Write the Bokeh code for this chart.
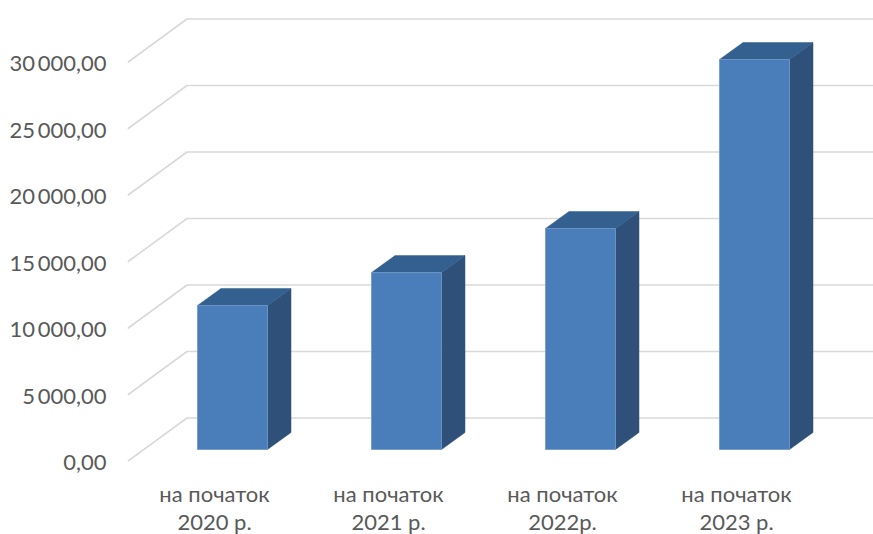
from bokeh.plotting import figure
from bokeh.models import Range1d, FixedTicker, LinearAxis
from bokeh.embed import file_html
from bokeh.resources import INLINE

category_first_line = ["на початок", "на початок", "на початок", "на початок"]
category_second_line = ["2020 р.", "2021 р.", "2022р.", "2023 р."]
values = [10830, 13300, 16620, 29320]
tick_values = [0, 5000, 10000, 15000, 20000, 25000, 30000]
tick_labels = ["0,00", "5\u2009000,00", "10\u2009000,00", "15\u2009000,00", "20\u2009000,00", "25\u2009000,00", "30\u2009000,00"]

# pixel scale of the plot area
PX_PER_CAT = 174.0
PX_PER_UNIT = 399.0 / 30000.0
FRAME_LEFT, FRAME_RIGHT, FRAME_TOP, FRAME_BOTTOM = 127, 873, 0, 461
FIRST_CAT = 214
def ux(px): return px / PX_PER_CAT
def uy(px): return px / PX_PER_UNIT

WALL_DX, WALL_DY = ux(59.5), uy(43.5)
BAR_DX, BAR_DY = ux(18), uy(12)
DEPTH_DX, DEPTH_DY = ux(23.5), uy(17)
HALF = ux(35)

p = figure(width=873, height=534, frame_width=FRAME_RIGHT - FRAME_LEFT, frame_height=FRAME_BOTTOM - FRAME_TOP,
           output_backend="svg", toolbar_location=None,
           x_range=Range1d((FRAME_LEFT - FIRST_CAT) / PX_PER_CAT, (FRAME_RIGHT - FIRST_CAT) / PX_PER_CAT),
           y_range=Range1d(0, (FRAME_BOTTOM - FRAME_TOP) / PX_PER_UNIT),
           min_border_left=FRAME_LEFT, min_border_right=0, min_border_top=0,
           min_border_bottom=534 - FRAME_BOTTOM)
p.outline_line_color = None
p.grid.visible = False

x0 = p.x_range.start
x1 = p.x_range.end
for v in tick_values:
    p.line([x0, x0 + WALL_DX, x1], [v, v + WALL_DY, v + WALL_DY], line_color="#d9d9d9", line_width=1.6)

xs_front, ys_front, xs_side, ys_side, xs_top, ys_top = [], [], [], [], [], []
for i, v in enumerate(values):
    l = i + BAR_DX - HALF
    r = i + BAR_DX + HALF
    b = BAR_DY
    t = b + v
    xs_front.append([l, r, r, l]); ys_front.append([b, b, t, t])
    xs_side.append([r, r + DEPTH_DX, r + DEPTH_DX, r]); ys_side.append([b, b + DEPTH_DY, t + DEPTH_DY, t])
    xs_top.append([l, r, r + DEPTH_DX, l + DEPTH_DX]); ys_top.append([t, t, t + DEPTH_DY, t + DEPTH_DY])

p.patches(xs_side, ys_side, fill_color="#2f5179", line_color="#2f5179", line_width=0.5)
p.patches(xs_top, ys_top, fill_color="#34608f", line_color="#34608f", line_width=0.5)
p.patches(xs_front, ys_front, fill_color="#4a7ebb", line_color="#6f98c9", line_width=0.8)

FONT = "Lato"
ax = p.yaxis[0]
ax.ticker = FixedTicker(ticks=tick_values)
ax.major_label_overrides = dict(zip(tick_values, tick_labels))
ax.axis_line_color = None
ax.major_tick_line_color = None
ax.minor_tick_line_color = None
ax.major_label_standoff = 15
ax.major_label_text_font = FONT
ax.major_label_text_font_size = "22px"
ax.major_label_text_color = "#595959"

def style_x(axis, labels, standoff):
    axis.ticker = FixedTicker(ticks=list(range(len(labels))))
    axis.major_label_overrides = dict(enumerate(labels))
    axis.axis_line_color = None
    axis.major_tick_line_color = None
    axis.minor_tick_line_color = None
    axis.major_label_standoff = standoff
    axis.major_label_text_font = FONT
    axis.major_label_text_font_size = "22px"
    axis.major_label_text_color = "#595959"

style_x(p.xaxis[0], category_first_line, 12)
second = LinearAxis()
style_x(second, category_second_line, -8)
p.add_layout(second, "below")

open("out.html", "w").write(file_html(p, INLINE))
